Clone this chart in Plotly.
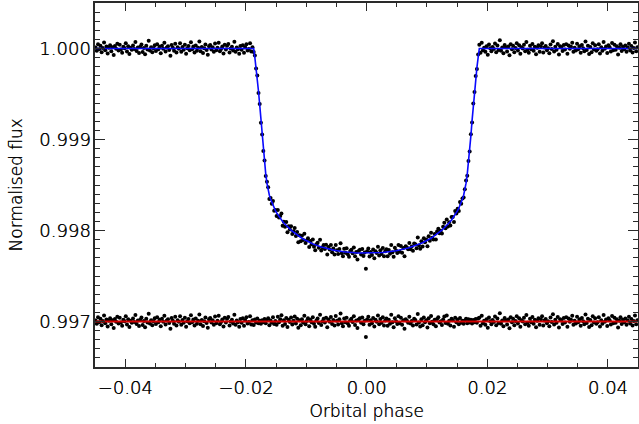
import plotly.graph_objects as go

# Orbital phase of each data point, in units of 1e-4
PHASE_E4 = [
    -449, -447, -445, -443, -441, -439, -437, -435, -433, -431,
    -429, -427, -425, -423, -421, -419, -417, -415, -413, -411,
    -409, -407, -405, -403, -401, -399, -397, -395, -393, -391,
    -389, -387, -385, -383, -381, -379, -377, -375, -373, -371,
    -369, -367, -365, -363, -361, -359, -357, -355, -353, -351,
    -349, -347, -345, -343, -341, -339, -337, -335, -333, -331,
    -329, -327, -325, -323, -321, -319, -317, -315, -313, -311,
    -309, -307, -305, -303, -301, -299, -297, -295, -293, -291,
    -289, -287, -285, -283, -281, -279, -277, -275, -273, -271,
    -269, -267, -265, -263, -261, -259, -257, -255, -253, -251,
    -249, -247, -245, -243, -241, -239, -237, -235, -233, -231,
    -229, -227, -225, -223, -221, -219, -217, -215, -213, -211,
    -209, -207, -205, -203, -201, -199, -197, -195, -193, -191,
    -189, -187, -185, -183, -181, -179, -177, -175, -173, -171,
    -169, -167, -165, -163, -161, -159, -157, -155, -153, -151,
    -149, -147, -145, -143, -141, -139, -137, -135, -133, -131,
    -129, -127, -125, -123, -121, -119, -117, -115, -113, -111,
    -109, -107, -105, -103, -101, -99, -97, -95, -93, -91,
    -89, -87, -85, -83, -81, -79, -77, -75, -73, -71,
    -69, -67, -65, -63, -61, -59, -57, -55, -53, -51,
    -49, -47, -45, -43, -41, -39, -37, -35, -33, -31,
    -29, -27, -25, -23, -21, -19, -17, -15, -13, -11,
    -9, -7, -5, -3, -1, 1, 3, 5, 7, 9,
    11, 13, 15, 17, 19, 21, 23, 25, 27, 29,
    31, 33, 35, 37, 39, 41, 43, 45, 47, 49,
    51, 53, 55, 57, 59, 61, 63, 65, 67, 69,
    71, 73, 75, 77, 79, 81, 83, 85, 87, 89,
    91, 93, 95, 97, 99, 101, 103, 105, 107, 109,
    111, 113, 115, 117, 119, 121, 123, 125, 127, 129,
    131, 133, 135, 137, 139, 141, 143, 145, 147, 149,
    151, 153, 155, 157, 159, 161, 163, 165, 167, 169,
    171, 173, 175, 177, 179, 181, 183, 185, 187, 189,
    191, 193, 195, 197, 199, 201, 203, 205, 207, 209,
    211, 213, 215, 217, 219, 221, 223, 225, 227, 229,
    231, 233, 235, 237, 239, 241, 243, 245, 247, 249,
    251, 253, 255, 257, 259, 261, 263, 265, 267, 269,
    271, 273, 275, 277, 279, 281, 283, 285, 287, 289,
    291, 293, 295, 297, 299, 301, 303, 305, 307, 309,
    311, 313, 315, 317, 319, 321, 323, 325, 327, 329,
    331, 333, 335, 337, 339, 341, 343, 345, 347, 349,
    351, 353, 355, 357, 359, 361, 363, 365, 367, 369,
    371, 373, 375, 377, 379, 381, 383, 385, 387, 389,
    391, 393, 395, 397, 399, 401, 403, 405, 407, 409,
    411, 413, 415, 417, 419, 421, 423, 425, 427, 429,
    431, 433, 435, 437, 439, 441, 443, 445, 447, 449,
]

# Transit model (blue line) at each phase, in ppm relative to 1
MODEL_PPM = [
    0, 0, 0, 0, 0, 0, 0, 0, 0, 0,
    0, 0, 0, 0, 0, 0, 0, 0, 0, 0,
    0, 0, 0, 0, 0, 0, 0, 0, 0, 0,
    0, 0, 0, 0, 0, 0, 0, 0, 0, 0,
    0, 0, 0, 0, 0, 0, 0, 0, 0, 0,
    0, 0, 0, 0, 0, 0, 0, 0, 0, 0,
    0, 0, 0, 0, 0, 0, 0, 0, 0, 0,
    0, 0, 0, 0, 0, 0, 0, 0, 0, 0,
    0, 0, 0, 0, 0, 0, 0, 0, 0, 0,
    0, 0, 0, 0, 0, 0, 0, 0, 0, 0,
    0, 0, 0, 0, 0, 0, 0, 0, 0, 0,
    0, 0, 0, 0, 0, 0, 0, 0, 0, 0,
    0, 0, 0, 0, 0, 0, 0, 0, 0, 0,
    0, 0, -100, -210, -330, -470, -620, -790, -960, -1120,
    -1260, -1380, -1480, -1560, -1612, -1655, -1692, -1725, -1755, -1782,
    -1805, -1827, -1847, -1866, -1884, -1901, -1917, -1932, -1946, -1959,
    -1971, -1983, -1995, -2006, -2017, -2028, -2038, -2048, -2058, -2067,
    -2076, -2085, -2093, -2101, -2108, -2115, -2122, -2129, -2135, -2141,
    -2147, -2153, -2158, -2163, -2168, -2173, -2177, -2181, -2185, -2189,
    -2193, -2196, -2200, -2203, -2206, -2209, -2212, -2215, -2218, -2220,
    -2223, -2225, -2227, -2229, -2231, -2232, -2234, -2236, -2237, -2239,
    -2240, -2241, -2242, -2243, -2244, -2245, -2246, -2247, -2248, -2248,
    -2249, -2249, -2250, -2250, -2250, -2250, -2250, -2250, -2249, -2249,
    -2248, -2248, -2247, -2246, -2245, -2244, -2243, -2242, -2241, -2240,
    -2239, -2237, -2236, -2234, -2232, -2231, -2229, -2227, -2225, -2223,
    -2220, -2218, -2215, -2212, -2209, -2206, -2203, -2200, -2196, -2193,
    -2189, -2185, -2181, -2177, -2173, -2168, -2163, -2158, -2153, -2147,
    -2141, -2135, -2129, -2122, -2115, -2108, -2101, -2093, -2085, -2076,
    -2067, -2058, -2048, -2038, -2028, -2017, -2006, -1995, -1983, -1971,
    -1959, -1946, -1932, -1917, -1901, -1884, -1866, -1847, -1827, -1805,
    -1782, -1755, -1725, -1692, -1655, -1612, -1560, -1480, -1380, -1260,
    -1120, -960, -790, -620, -470, -330, -210, -100, 0, 0,
    0, 0, 0, 0, 0, 0, 0, 0, 0, 0,
    0, 0, 0, 0, 0, 0, 0, 0, 0, 0,
    0, 0, 0, 0, 0, 0, 0, 0, 0, 0,
    0, 0, 0, 0, 0, 0, 0, 0, 0, 0,
    0, 0, 0, 0, 0, 0, 0, 0, 0, 0,
    0, 0, 0, 0, 0, 0, 0, 0, 0, 0,
    0, 0, 0, 0, 0, 0, 0, 0, 0, 0,
    0, 0, 0, 0, 0, 0, 0, 0, 0, 0,
    0, 0, 0, 0, 0, 0, 0, 0, 0, 0,
    0, 0, 0, 0, 0, 0, 0, 0, 0, 0,
    0, 0, 0, 0, 0, 0, 0, 0, 0, 0,
    0, 0, 0, 0, 0, 0, 0, 0, 0, 0,
    0, 0, 0, 0, 0, 0, 0, 0, 0, 0,
]

# Residuals (data minus model) at each phase, in ppm
RESID_PPM = [
    12, -25, 48, -8, 30, -41, 5, 66, -18, 22,
    -55, 9, 37, -30, 14, -72, 27, -3, 51, -21,
    40, -12, -46, 18, 3, 59, -34, 25, -60, 8,
    -15, 33, -6, 71, -27, 11, -49, 20, 44, -38,
    6, -63, 29, -11, 85, -22, 15, -40, 2, 36,
    -28, 47, -9, 19, -52, 31, -4, 62, -33, 10,
    24, -17, -81, 38, 7, -26, 53, -45, 13, -2,
    58, -35, 16, -13, 42, -57, 4, 28, -20, 69,
    -7, 21, -43, 34, -24, 9, 77, -31, 17, -50,
    3, 45, -16, -68, 26, 39, -10, 14, -37, 55,
    -19, 8, 63, -29, -5, 23, -54, 41, -12, 30,
    50, -44, 1, 18, -23, 74, -36, 12, -8, -59,
    27, -14, 35, -47, 10, 46, -21, -6, 57, -32,
    15, -39, 22, -11, 33, -18, 9, -26, 14, -7,
    28, -20, 17, 35, -42, 11, -15, 48, -28, 6,
    -36, 52, -9, 24, 70, -48, 13, -27, 39, -61,
    18, -5, 43, -33, 8, 56, -22, 31, -70, 14,
    -41, 26, -12, 64, -30, 5, 37, -53, 20, -9,
    47, -25, -58, 12, 33, -16, 75, -38, 2, 29,
    -11, 40, -64, 21, -3, 49, -27, 16, -45, 60,
    7, -34, 25, 88, -19, -52, 34, -8, 42, -23,
    -48, 15, 31, -6, 57, -39, 10, -71, 23, 36,
    -14, 45, -29, 8, -170, 22, 51, -37, 13, -20,
    39, -56, 18, -2, 66, -30, 27, -15, 48, -43,
    11, 32, -47, 20, -24, 73, -9, -62, 35, 4,
    -27, 58, -18, 41, -36, 13, -79, 26, 9, -13,
    52, -21, 6, -45, 30, 17, -33, 82, -11, -54,
    24, -40, 44, -7, 15, -66, 37, -19, 61, -3,
    -31, 19, -52, 28, 46, -12, 4, -38, 23, 55,
    -16, 67, -25, 9, -43, 31, 14, -59, 40, -8,
    21, -30, 38, -14, 7, -26, 12, 30, -18, 24,
    -12, 19, -22, 16, -8, 27, -15, 34, 41, -46,
    63, -20, 8, -37, 26, -68, 45, 2, -29, 17,
    -5, 54, -42, 33, -16, 90, -24, 11, -51, 38,
    14, -33, 22, -74, 47, -9, 29, -40, 6, 59,
    -22, 36, -57, 15, -1, 42, -30, 72, -13, -47,
    31, -8, 50, -26, 19, -63, 8, 35, -36, 24,
    57, -45, 12, 28, -19, 3, -52, 44, -6, 81,
    -34, 20, -15, 49, -67, 26, 10, -28, 38, -11,
    46, -58, 33, -4, 18, 64, -37, 7, -21, 52,
    -9, 25, -46, 39, 2, -30, 76, -17, 30, -61,
    17, -40, 58, -12, 35, -24, -7, 47, -55, 13,
    -26, 71, -3, 21, -49, 37, 15, -33, 60, -18,
    41, -14, 26, -65, 9, 48, -28, 19, -8, 34,
    -37, 12, 53, -21, 28, -43, 6, 65, -30, 15,
]

RESID_OFFSET = 0.997
X_TICKS = [-0.04, -0.02, 0.00, 0.02, 0.04]
Y_TICKS = [0.997, 0.998, 0.999, 1.000]

phase = [p * 1e-4 for p in PHASE_E4]
model = [1.0 + m * 1e-6 for m in MODEL_PPM]
flux = [1.0 + (m + r) * 1e-6 for m, r in zip(MODEL_PPM, RESID_PPM)]
resid = [RESID_OFFSET + r * 1e-6 for r in RESID_PPM]
resid_zero = [RESID_OFFSET for _ in PHASE_E4]

FONT = "DejaVu Sans, sans-serif"
TXT = "#000"
AX = "#2a2a2a"

def tfont(size):
    return dict(family=FONT, size=size, color=TXT, weight=200,
                shadow="0.45px 0px 0px #000")

fig = go.Figure()
fig.add_trace(go.Scatter(x=phase, y=flux, mode="markers",
                         marker=dict(size=4, color="black", line=dict(width=0)),
                         showlegend=False, hoverinfo="skip"))
fig.add_trace(go.Scatter(x=phase, y=resid, mode="markers",
                         marker=dict(size=4, color="black", line=dict(width=0)),
                         showlegend=False, hoverinfo="skip"))
fig.add_trace(go.Scatter(x=phase, y=model, mode="lines",
                         line=dict(color="#0a0aff", width=1.6),
                         showlegend=False, hoverinfo="skip"))
fig.add_trace(go.Scatter(x=phase, y=resid_zero, mode="lines",
                         line=dict(color="#d40000", width=1.8),
                         showlegend=False, hoverinfo="skip"))

fig.update_layout(
    width=639, height=424,
    margin=dict(l=95, r=1, t=3, b=57),
    paper_bgcolor="white", plot_bgcolor="white",
    font=tfont(18),
)
fig.update_xaxes(
    range=[-0.045, 0.045], automargin=False,
    tickmode="array", tickvals=X_TICKS,
    ticktext=[f"{v:.2f}".replace("-", "\u2212") for v in X_TICKS],
    ticks="inside", ticklen=8, tickwidth=1, tickcolor=AX,
    minor=dict(dtick=0.005, tick0=0, ticks="inside", ticklen=4, tickwidth=1, tickcolor=AX),
    mirror="allticks", showline=True, linecolor=AX, linewidth=1.5,
    showgrid=False, zeroline=False,
    tickfont=tfont(18),
    ticklabelstandoff=4,
    title=dict(text="Orbital phase", font=tfont(17), standoff=8),
)
fig.update_yaxes(
    range=[0.9965, 1.0005], automargin=False,
    tickmode="array", tickvals=Y_TICKS,
    ticktext=[f"{v:.3f}" for v in Y_TICKS],
    ticks="inside", ticklen=10, tickwidth=1, tickcolor=AX,
    minor=dict(dtick=0.0001, tick0=0.997, ticks="inside", ticklen=5, tickwidth=1, tickcolor=AX),
    mirror="allticks", showline=True, linecolor=AX, linewidth=1.5,
    showgrid=False, zeroline=False,
    tickfont=tfont(18),
    ticklabelstandoff=-1,
    title=dict(text="Normalised flux", font=tfont(17), standoff=12),
)

# remove the default page margin so the figure sits at the window's top-left corner
fig.write_html("out.html", config={"displayModeBar": False},
               post_script="document.body.style.margin='0';")
